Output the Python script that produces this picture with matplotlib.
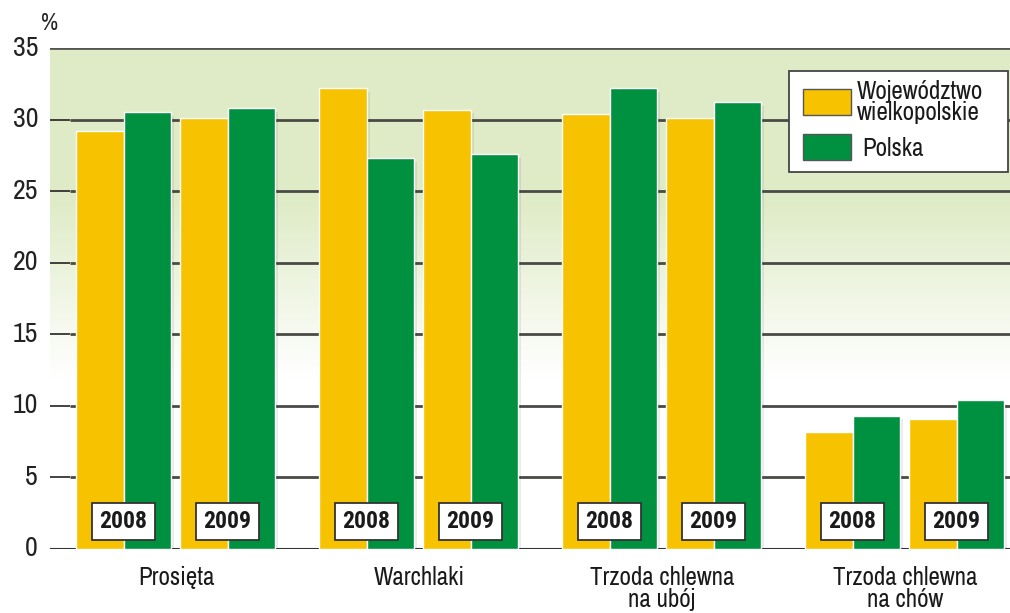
import matplotlib
matplotlib.use("Agg")
import matplotlib.pyplot as plt
import numpy as np
from matplotlib.patches import Rectangle

REG = ['Archivo Narrow', 'Roboto Condensed', 'Liberation Sans', 'DejaVu Sans']
BOLD = ['Roboto Condensed', 'Barlow Semi Condensed', 'Asap Condensed', 'Liberation Sans', 'DejaVu Sans']
plt.rcParams['font.family'] = REG

categories = ["Prosięta", "Warchlaki", "Trzoda chlewna\nna ubój", "Trzoda chlewna\nna chów"]
years = ["2008", "2009"]
series_names = ["Województwo\nwielkopolskie", "Polska"]
# values [category][year]
wielkopolskie = [[29.2, 30.1], [32.2, 30.7], [30.4, 30.1], [8.2, 9.1]]
polska = [[30.5, 30.8], [27.3, 27.6], [32.2, 31.2], [9.3, 10.4]]
yticks = [0, 5, 10, 15, 20, 25, 30, 35]

YEL = "#F7C300"
GRN = "#009140"

W, H = 1010, 613
fig = plt.figure(figsize=(W/100, H/100), dpi=100)
x0, x1, ybot, ytop = 50, 1010, 549, 48
ax = fig.add_axes([x0/W, (H-ybot)/H, (x1-x0)/W, (ybot-ytop)/H])
ax.set_xlim(x0, x1)
ax.set_ylim(0, 35)
ppu = (ybot - ytop) / 35.0

# gradient background: solid pale green above ~24, fading to white by ~12
yy = np.linspace(0, 35, 350)[:, None]
top = np.array([0.878, 0.925, 0.784])
t = np.clip((yy - 12) / 12.0, 0, 1)
c = np.ones((350, 1, 3))
c[:, 0, :] = 1 - (1 - top) * t
ax.imshow(c, extent=[x0, x1, 0, 35], aspect='auto', origin='lower', zorder=0)

# gridlines
for v in yticks[1:-1]:
    ax.plot([70, x1], [v, v], color="#4a4a45", lw=2, zorder=1, solid_capstyle='butt')
    ax.plot([x0, 70], [v, v], color="#222222", lw=1.2, zorder=1, solid_capstyle='butt')
ax.plot([x0, x1], [35, 35], color="#555550", lw=2, zorder=1)
ax.plot([x0, x1], [0, 0], color="#333333", lw=1.5, zorder=1)

bw = 47.5
pitch = 243
starts = [76 + pitch*i for i in range(len(categories))]
yoff = [0, 104]
for i, cat in enumerate(categories):
    for j, yr in enumerate(years):
        lx = starts[i] + yoff[j]
        for k, vals in enumerate([wielkopolskie, polska]):
            ax.add_patch(Rectangle((lx + k*bw + 3, -0.25), bw, vals[i][j], facecolor="#000000", alpha=0.08, lw=0, zorder=2))
        ax.bar(lx, wielkopolskie[i][j], width=bw, align='edge', color=YEL, edgecolor='white', linewidth=1, zorder=3)
        ax.bar(lx + bw, polska[i][j], width=bw, align='edge', color=GRN, edgecolor='white', linewidth=1, zorder=3)
        cx = lx + bw
        ax.text(cx, 1.95, yr, ha='center', va='center', fontsize=17, fontweight='bold', family=BOLD,
                color="#1a1a1a", zorder=5,
                bbox=dict(boxstyle='square,pad=0.3', facecolor='white', edgecolor='#333333', linewidth=1.3))
    ax.text(starts[i] + 100, -1.2, cat, ha='center', va='top', fontsize=18, color="#1a1a1a", linespacing=0.95)

ax.set_yticks([])
ax.set_xticks([])
for s in ax.spines.values():
    s.set_visible(False)
for v in yticks:
    ax.text(x0 - 12, v, str(v), ha='right', va='center', fontsize=20, color="#222222")
ax.text(41, 36.0, "%", ha='left', va='bottom', fontsize=17, color="#222222")

# legend
def py(p):
    return (ybot - p) / ppu
ax.add_patch(Rectangle((789, py(172)), 219, (172-71)/ppu, facecolor='white', edgecolor='#444444', lw=1.3, zorder=6))
ax.add_patch(Rectangle((803, py(115)), 48, (115-89)/ppu, facecolor=YEL, edgecolor='#555555', lw=1, zorder=7))
ax.add_patch(Rectangle((803, py(160)), 48, (160-134)/ppu, facecolor=GRN, edgecolor='#555555', lw=1, zorder=7))
ax.text(857, py(102), series_names[0], ha='left', va='center', fontsize=18, color="#1a1a1a", zorder=8, linespacing=0.9)
ax.text(862, py(148), series_names[1], ha='left', va='center', fontsize=18, color="#1a1a1a", zorder=8)

fig.savefig("out.png", dpi=100)
